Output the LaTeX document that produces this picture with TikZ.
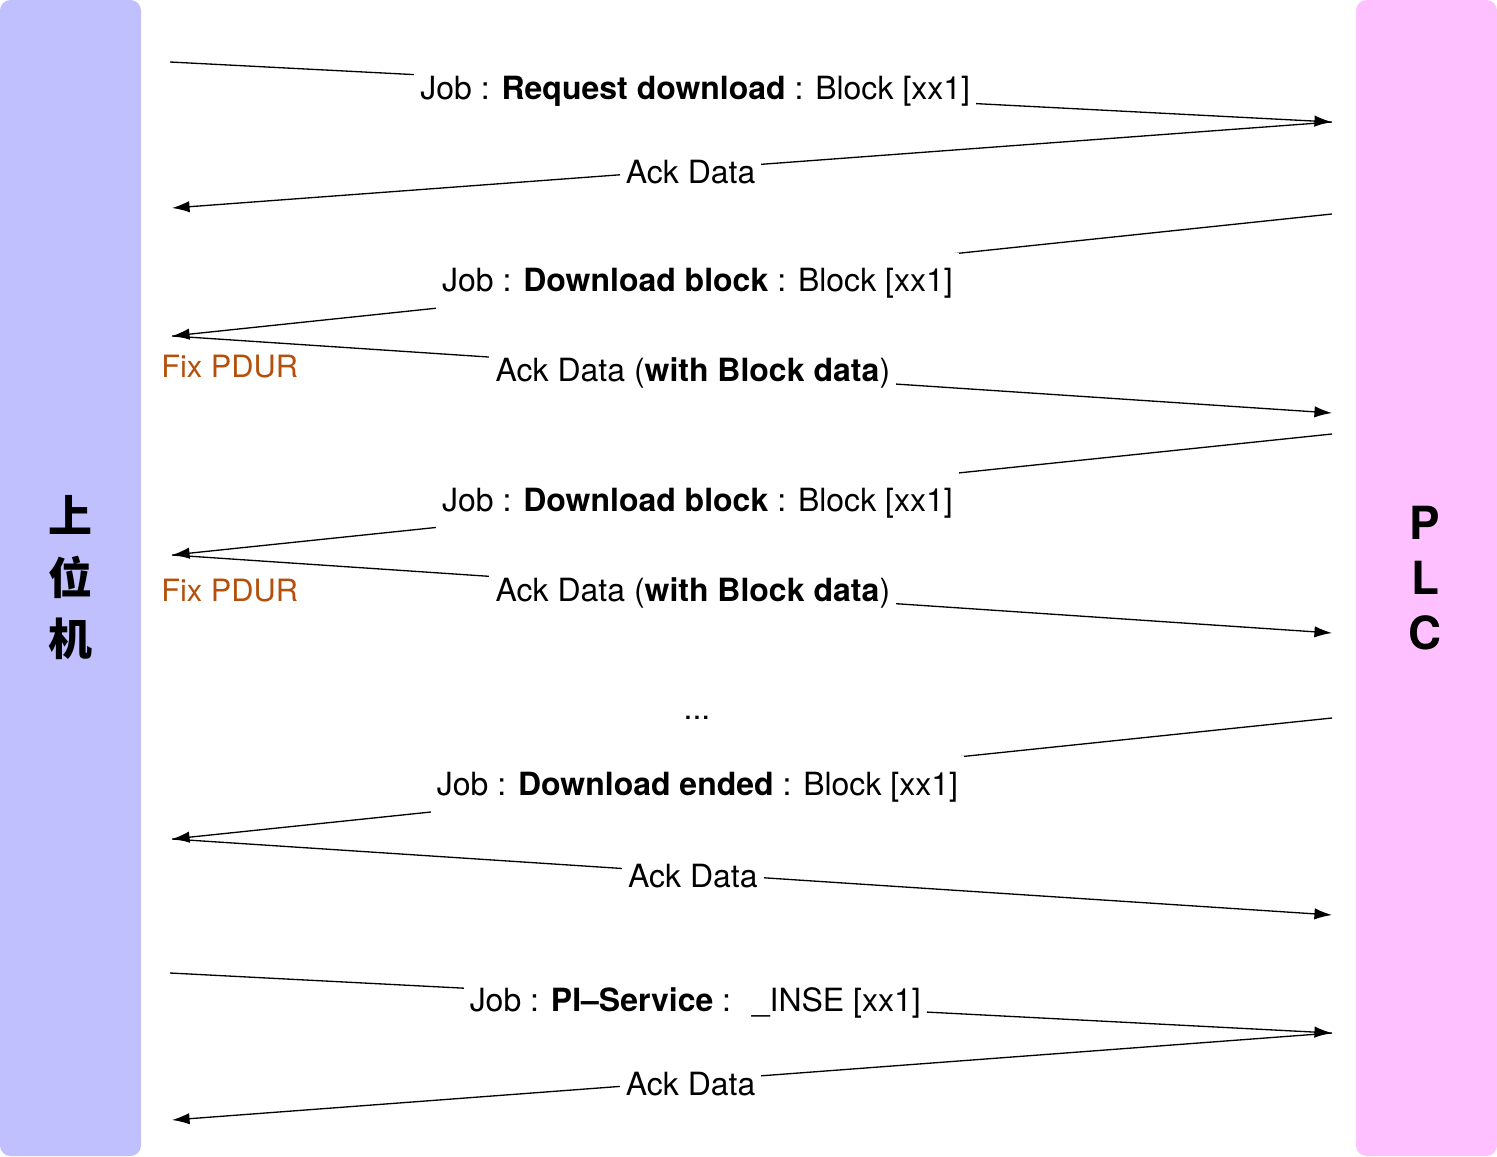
\documentclass[tikz,border=0pt]{standalone}
\usepackage{fontspec}
\setmainfont{TeX Gyre Heros}
\newfontfamily\cjk{Noto Sans CJK SC}
\usetikzlibrary{arrows.meta}

\definecolor{hostcol}{RGB}{192,192,255}
\definecolor{plccol}{RGB}{255,192,255}
\definecolor{fixcol}{RGB}{180,80,12}

\tikzset{
    msg/.style={fill=white, inner xsep=3.5pt, inner ysep=9pt, yshift=-1.5pt, font=\fontsize{18.2}{22}\selectfont},
    link/.style={line width=0.75pt, -{Latex[length=10pt,width=6.5pt]}},
    fix/.style={anchor=west, text=fixcol, inner sep=0pt, font=\fontsize{17.5}{21}\selectfont}
}

\begin{document}
\begin{tikzpicture}[x=0.02cm, y=-0.02cm]
            \useasboundingbox (0,0) rectangle (1497,1156);

            \fill[hostcol, rounded corners=6] (0,0) rectangle (141,1156);
                \node[font=\cjk\bfseries\fontsize{25}{35}\selectfont, align=center] (host) at (70,578) {上\\位\\机};
            \fill[plccol, rounded corners=6] (1356,0) rectangle (1497,1156);
                \node[font=\bfseries\fontsize{26}{31.5}\selectfont, align=center] (plc) at (1425,578) {P\\L\\C};

            \coordinate (h1) at (170,62);
            \coordinate (h2) at (172,208);
            \coordinate (h3) at (172,336);
            \coordinate (h4) at (172,555);
            \coordinate (h5) at (172,839);
            \coordinate (h6) at (170,973);
            \coordinate (h7) at (172,1120);

            \coordinate (p1) at (1332,122);
            \coordinate (p2) at (1332,214);
            \coordinate (p3) at (1332,413);
            \coordinate (p4) at (1332,434);
            \coordinate (p5) at (1332,633);
            \coordinate (p6) at (1332,718);
            \coordinate (p7) at (1332,915);
            \coordinate (p8) at (1332,1033);

            \draw[link] (h1) -- node[msg, pos=0.452] (m1) {Job : \textbf{Request download} : Block [xx1]} (p1);
            \draw[link] (p1) -- node[msg, pos=0.553] (m2) {Ack Data} (h2);

            \draw[link] (p2) -- node[msg, pos=0.547] (m3) {Job : \textbf{Download block} : Block [xx1]} (h3);
            \draw[link] (h3) -- node[msg, pos=0.449] (m4) {Ack Data (\textbf{with Block data})} (p3);
                \node[fix] (fix1) at (161,367) {Fix PDUR};

            \draw[link] (p4) -- node[msg, pos=0.547] (m5) {Job : \textbf{Download block} : Block [xx1]} (h4);
            \draw[link] (h4) -- node[msg, pos=0.449] (m6) {Ack Data (\textbf{with Block data})} (p5);
                \node[fix] (fix2) at (161,591) {Fix PDUR};

            \node[font=\fontsize{18.2}{22}\selectfont] (gap) at (697,718) {...};

            \draw[link] (p6) -- node[msg, pos=0.547] (m7) {Job : \textbf{Download ended} : Block [xx1]} (h5);
            \draw[link] (h5) -- node[msg, pos=0.449] (m8) {Ack Data} (p7);

            \draw[link] (h6) -- node[msg, pos=0.452] (m9) {Job : \textbf{PI–Service} : \ \_INSE [xx1]} (p8);
            \draw[link] (p8) -- node[msg, pos=0.553] (m10) {Ack Data} (h7);

      \end{tikzpicture}
\end{document}
